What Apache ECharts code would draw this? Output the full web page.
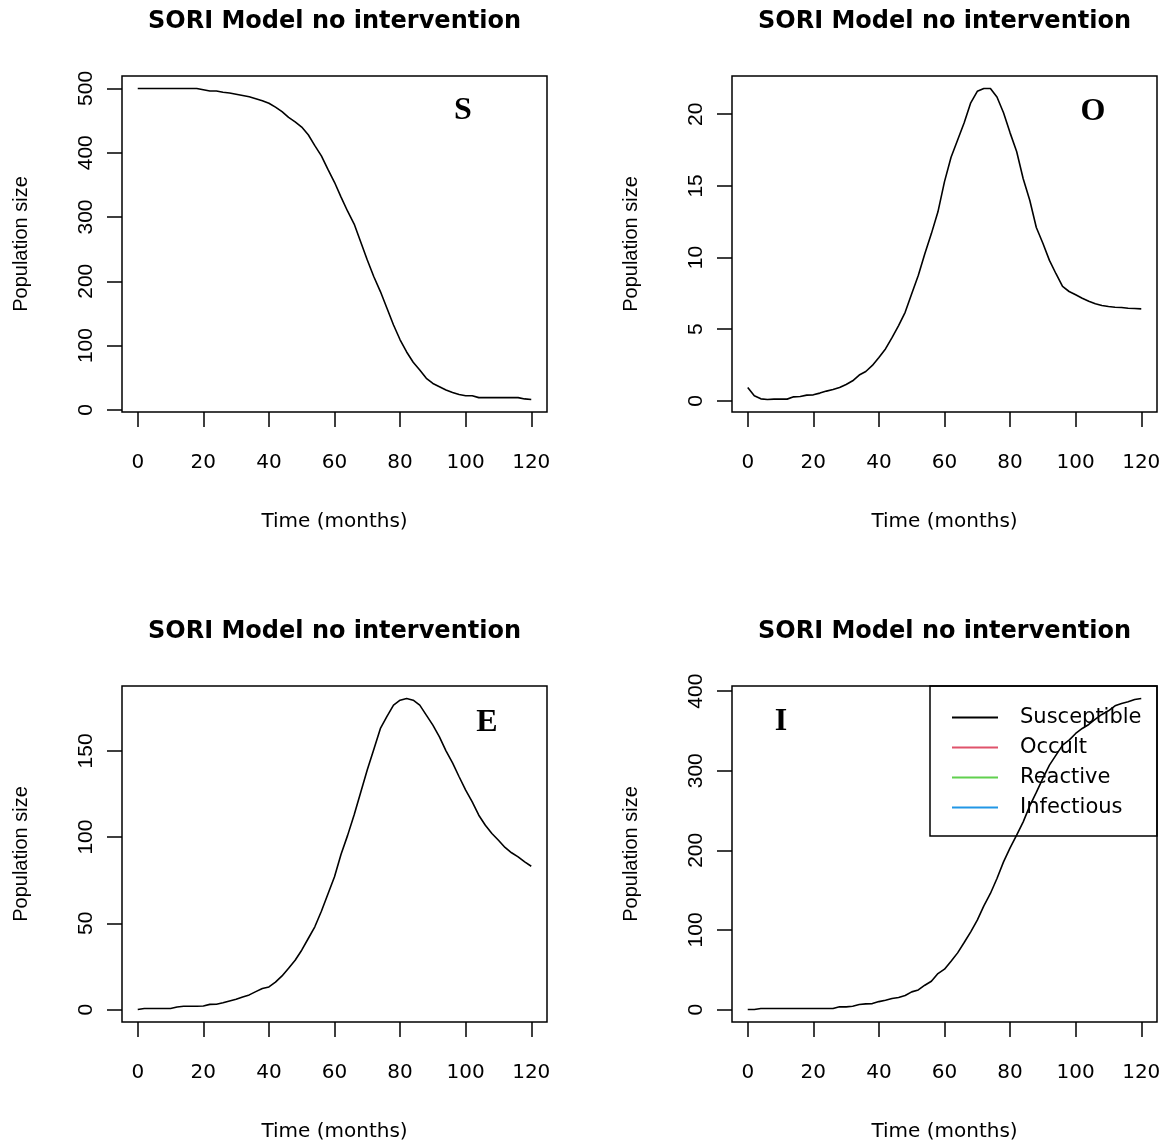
<!DOCTYPE html>
<html>
<head>
<meta charset="utf-8">
<script src="https://cdn.jsdelivr.net/npm/echarts@6/dist/echarts.min.js"></script>
<style>
  html, body { margin: 0; background: #fff; }
  #chart { width: 1170px; height: 1147px; }
</style>
</head>
<body>
<div id="chart"></div>
<script>
  // time in months
  const months = [0, 2, 4, 6, 8, 10, 12, 14, 16, 18, 20, 22, 24, 26, 28, 30, 32, 34, 36, 38, 40,
    42, 44, 46, 48, 50, 52, 54, 56, 58, 60, 62, 64, 66, 68, 70, 72, 74, 76, 78, 80,
    82, 84, 86, 88, 90, 92, 94, 96, 98, 100, 102, 104, 106, 108, 110, 112, 114, 116, 118, 120]

  const susceptible = [500, 500, 500, 500, 500, 500, 500, 500, 500, 500, 498, 496, 496, 494, 493, 491,
    489, 487, 484, 481, 477, 471, 464, 455, 448, 440, 428, 411, 395, 374, 354, 331, 309, 289, 261, 233,
    207, 184, 158, 132, 109, 90, 74, 62, 49, 41, 36, 31, 27, 24, 22, 22, 19, 19, 19, 19, 19, 19, 19, 17, 16]

  const occult = [0.93, 0.35, 0.14, 0.09, 0.12, 0.12, 0.12, 0.28, 0.30, 0.40, 0.42, 0.54, 0.68, 0.79,
    0.93, 1.14, 1.40, 1.80, 2.05, 2.47, 3.03, 3.62, 4.41, 5.25, 6.18, 7.47, 8.75, 10.27, 11.67, 13.19,
    15.3, 17.0, 18.2, 19.4, 20.8, 21.6, 21.8, 21.8, 21.2, 20.1, 18.7, 17.4, 15.5, 14.0, 12.1, 11.0,
    9.8, 8.87, 7.98, 7.63, 7.40, 7.16, 6.95, 6.77, 6.65, 6.58, 6.53, 6.51, 6.46, 6.44, 6.42]

  const reactive = [0, 0.6, 0.6, 0.6, 0.6, 0.6, 1.5, 1.9, 1.9, 1.9, 2.1, 3.0, 3.1, 3.9, 5.0, 6.0, 7.3,
    8.5, 10.4, 12.2, 13.1, 15.9, 19.5, 24, 28.6, 34.4, 41.2, 48, 57, 67, 77, 90, 101, 113, 126, 139,
    151, 163, 170, 176.5, 179.4, 180.4, 179.4, 176.5, 170.7, 164.9, 158.1, 150, 143, 135, 127.2, 120.4,
    112.7, 106.9, 102.1, 98.2, 94, 90.9, 88.5, 85.6, 83.1]

  const infectious = [0, 0, 1.3, 1.3, 1.3, 1.3, 1.3, 1.3, 1.3, 1.3, 1.3, 1.3, 1.3, 1.3, 3.4, 3.4, 4.2,
    6.3, 7.1, 7.5, 10, 11.7, 13.8, 15.1, 17.6, 22.2, 24.7, 30.6, 35.6, 45.2, 50.7, 60.7, 71.2, 84.2,
    97.6, 112.3, 130.3, 145.8, 164.6, 185.5, 203.1, 219, 235.8, 255.9, 272.7, 290.3, 307, 319.6, 332.1,
    338.4, 346.8, 353.1, 358.1, 364.8, 370.7, 375.3, 381.6, 384.5, 386.6, 389.5, 390.8]

  const xTicks = [0, 20, 40, 60, 80, 100, 120]
  const sTicks = [0, 100, 200, 300, 400, 500]
  const oTicks = [0, 5, 10, 15, 20]
  const eTicks = [0, 50, 100, 150]
  const iTicks = [0, 100, 200, 300, 400]

  const legendNames = ['Susceptible', 'Occult', 'Reactive', 'Infectious']
  const legendColors = ['#000000', '#DF536B', '#61D04F', '#2297E6']

  const titleText = 'SORI Model no intervention'

  // R pads the data range by 4% on each side
  function rRange(v) {
    const lo = Math.min(...v), hi = Math.max(...v), d = (hi - lo) * 0.04
    return [lo - d, hi + d]
  }

  const panels = [
    {name: 'Susceptible', letter: 'S', values: susceptible, ticks: sTicks, left: 122, top: 76, lx: 463, ly: 111},
    {name: 'Occult', letter: 'O', values: occult, ticks: oTicks, left: 732, top: 76, lx: 1093, ly: 112},
    {name: 'Reactive', letter: 'E', values: reactive, ticks: eTicks, left: 122, top: 686, lx: 487, ly: 723},
    {name: 'Infectious', letter: 'I', values: infectious, ticks: iTicks, left: 732, top: 686, lx: 781, ly: 722}
  ]
  const plotW = 425
  const plotH = 336

  const xr = rRange(months)
  const black = '#000'

  const grid = [], xAxis = [], yAxis = [], series = [], title = [], graphic = []

  panels.forEach((p, i) => {
    grid.push({
      left: p.left, top: p.top, width: plotW, height: plotH,
      show: true, borderColor: black, borderWidth: 1.5, backgroundColor: 'transparent'
    })
    xAxis.push({
      type: 'value', gridIndex: i, min: xr[0], max: xr[1],
      name: 'Time (months)', nameLocation: 'middle', nameGap: 100,
      nameTextStyle: {fontFamily: 'DejaVu Sans', fontSize: 20, color: black},
      axisLine: {show: false, onZero: false},
      axisTick: {show: true, length: 15, customValues: xTicks, lineStyle: {color: black, width: 1.5}},
      axisLabel: {customValues: xTicks, margin: 41, fontFamily: 'DejaVu Sans', fontSize: 20, color: black},
      splitLine: {show: false}
    })
    const yr = rRange(p.values)
    yAxis.push({
      type: 'value', gridIndex: i, min: yr[0], max: yr[1],
      name: 'Population size', nameLocation: 'middle', nameGap: 91,
      nameTextStyle: {fontFamily: 'Liberation Sans', fontSize: 20, color: black},
      axisLine: {show: false, onZero: false},
      axisTick: {show: true, length: 15, customValues: p.ticks, lineStyle: {color: black, width: 1.5}},
      axisLabel: {customValues: p.ticks, rotate: 90, margin: 25, fontFamily: 'Liberation Sans', fontSize: 21, color: black},
      splitLine: {show: false}
    })
    series.push({
      name: p.name, type: 'line', xAxisIndex: i, yAxisIndex: i,
      data: months.map((m, k) => [m, p.values[k]]),
      symbol: 'none', lineStyle: {color: black, width: 1.6}, itemStyle: {color: black},
      animation: false
    })
    title.push({
      text: titleText, left: p.left + plotW / 2, top: p.top - 66, textAlign: 'center', padding: 0,
      textStyle: {fontFamily: 'DejaVu Sans', fontWeight: 'bold', fontSize: 24, color: black}
    })
    graphic.push({
      type: 'text', x: p.lx, y: p.ly,
      style: {text: p.letter, fill: black, align: 'center', verticalAlign: 'middle',
        font: 'bold 32px "Liberation Serif"'}
    })
  })

  // legend frame in the last panel
  graphic.push({
    type: 'rect', shape: {x: 930, y: 686, width: 227, height: 150},
    style: {fill: 'none', stroke: black, lineWidth: 1.5}
  })

  const chart = echarts.init(document.getElementById('chart'))
  chart.setOption({
    backgroundColor: '#fff',
    animation: false,
    title: title,
    grid: grid,
    xAxis: xAxis,
    yAxis: yAxis,
    series: series,
    graphic: graphic,
    legend: {
      orient: 'vertical', left: 952, top: 707,
      padding: 0, itemGap: 9, itemWidth: 46, itemHeight: 2, icon: 'rect',
      selectedMode: false,
      textStyle: {fontFamily: 'DejaVu Sans', fontSize: 21, color: black, lineHeight: 20, padding: [0, 0, 0, 17]},
      data: legendNames.map((n, k) => ({
        name: n, itemStyle: {color: legendColors[k]}, lineStyle: {color: legendColors[k]}
      }))
    }
  })
</script>
</body>
</html>
